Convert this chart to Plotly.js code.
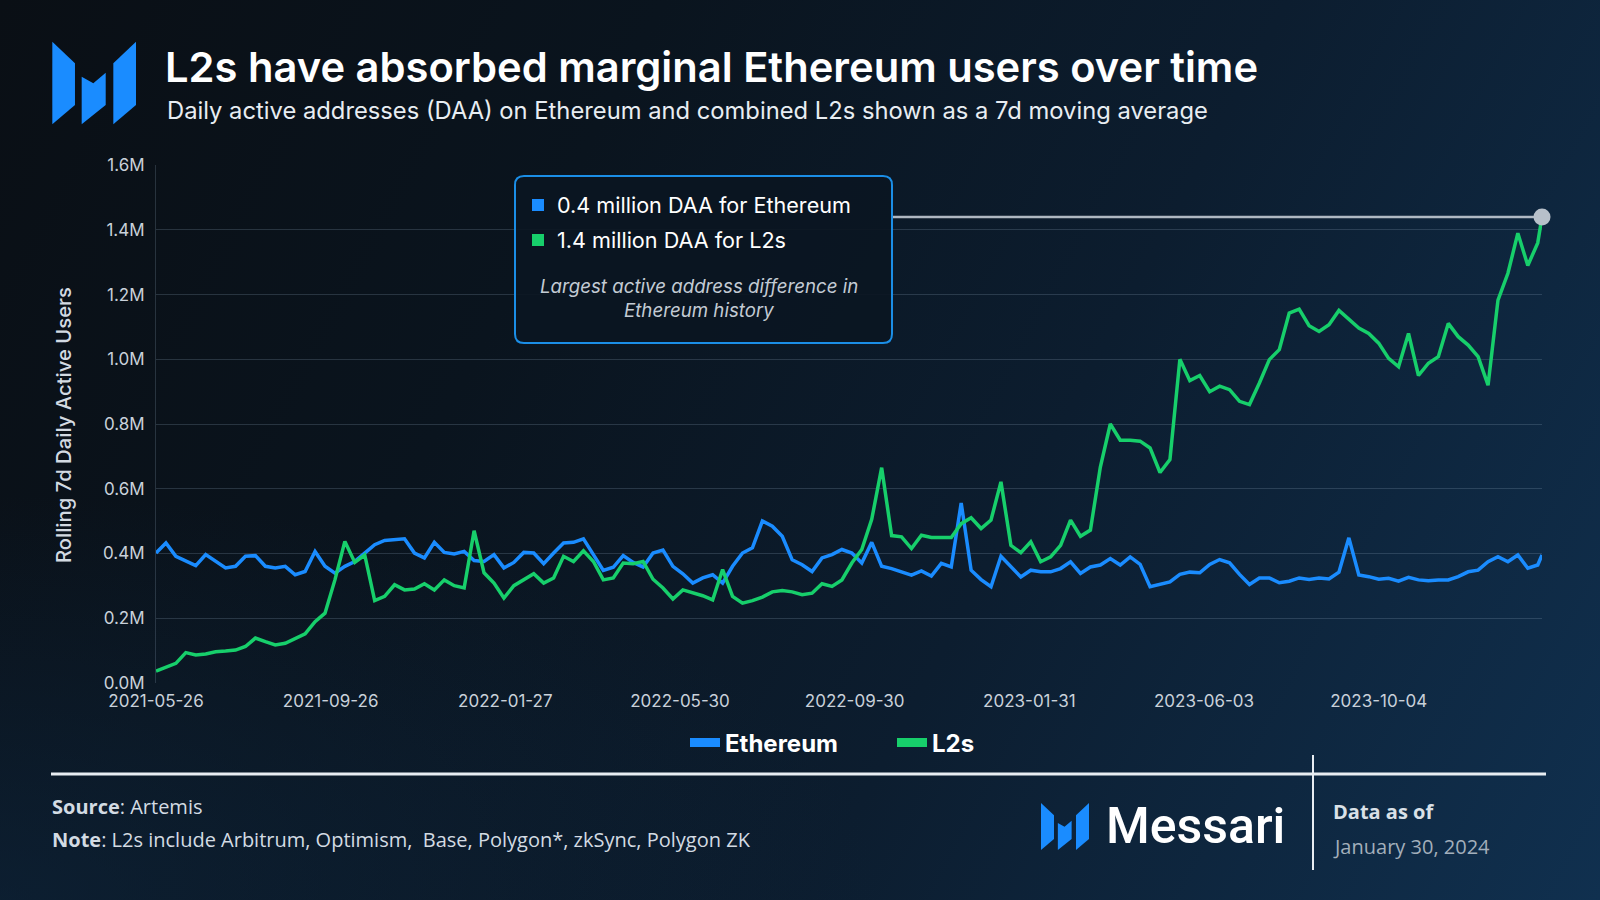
<!DOCTYPE html>
<html><head><meta charset="utf-8">
<script src="https://cdn.plot.ly/plotly-3.0.1.min.js"></script>
<style>
html,body{margin:0;padding:0;width:1600px;height:900px;overflow:hidden;}
body{background:
  radial-gradient(55% 45% at 0% 100%, rgba(14,40,66,0.55) 0%, rgba(14,40,66,0) 100%),
  linear-gradient(118deg,#0a0f15 0%,#0a141e 32%,#0c1d2f 62%,#10304f 100%);}
#chart{width:1600px;height:900px;}
</style></head><body><div id="chart"></div>
<script>
const dates = [
"2021-05-26","2021-06-02","2021-06-09","2021-06-16","2021-06-23","2021-06-30","2021-07-07","2021-07-14","2021-07-21","2021-07-28",
"2021-08-04","2021-08-11","2021-08-18","2021-08-25","2021-09-01","2021-09-08","2021-09-15","2021-09-22","2021-09-29","2021-10-06",
"2021-10-13","2021-10-20","2021-10-27","2021-11-03","2021-11-10","2021-11-17","2021-11-24","2021-12-01","2021-12-08","2021-12-15",
"2021-12-22","2021-12-29","2022-01-05","2022-01-12","2022-01-19","2022-01-26","2022-02-02","2022-02-09","2022-02-16","2022-02-23",
"2022-03-02","2022-03-09","2022-03-16","2022-03-23","2022-03-30","2022-04-06","2022-04-13","2022-04-20","2022-04-27","2022-05-04",
"2022-05-11","2022-05-18","2022-05-25","2022-06-01","2022-06-08","2022-06-15","2022-06-22","2022-06-29","2022-07-06","2022-07-13",
"2022-07-20","2022-07-27","2022-08-03","2022-08-10","2022-08-17","2022-08-24","2022-08-31","2022-09-07","2022-09-14","2022-09-21",
"2022-09-28","2022-10-05","2022-10-12","2022-10-19","2022-10-26","2022-11-02","2022-11-09","2022-11-16","2022-11-23","2022-11-30",
"2022-12-07","2022-12-14","2022-12-21","2022-12-28","2023-01-04","2023-01-11","2023-01-18","2023-01-25","2023-02-01","2023-02-08",
"2023-02-15","2023-02-22","2023-03-01","2023-03-08","2023-03-15","2023-03-22","2023-03-29","2023-04-05","2023-04-12","2023-04-19",
"2023-04-26","2023-05-03","2023-05-10","2023-05-17","2023-05-24","2023-05-31","2023-06-07","2023-06-14","2023-06-21","2023-06-28",
"2023-07-05","2023-07-12","2023-07-19","2023-07-26","2023-08-02","2023-08-09","2023-08-16","2023-08-23","2023-08-30","2023-09-06",
"2023-09-13","2023-09-20","2023-09-27","2023-10-04","2023-10-11","2023-10-18","2023-10-25","2023-11-01","2023-11-08","2023-11-15",
"2023-11-22","2023-11-29","2023-12-06","2023-12-13","2023-12-20","2023-12-27","2024-01-03","2024-01-10","2024-01-17","2024-01-24",
"2024-01-27"];

// Rolling 7d daily active addresses, millions
const ethereum = [
0.401,0.432,0.391,0.375,0.362,0.396,0.375,0.355,0.360,0.391,
0.393,0.360,0.355,0.360,0.334,0.344,0.406,0.360,0.339,0.360,
0.375,0.400,0.427,0.440,0.443,0.445,0.401,0.386,0.434,0.403,
0.398,0.406,0.378,0.375,0.396,0.355,0.372,0.403,0.401,0.368,
0.401,0.432,0.434,0.445,0.396,0.347,0.357,0.393,0.372,0.358,
0.401,0.410,0.360,0.337,0.308,0.324,0.334,0.308,0.360,0.401,
0.417,0.500,0.484,0.453,0.380,0.365,0.344,0.386,0.396,0.412,
0.401,0.370,0.434,0.360,0.353,0.343,0.333,0.346,0.330,0.369,
0.358,0.556,0.348,0.319,0.297,0.391,0.358,0.327,0.348,0.343,
0.343,0.353,0.374,0.338,0.358,0.364,0.384,0.364,0.389,0.366,
0.297,0.304,0.312,0.335,0.342,0.340,0.366,0.381,0.371,0.335,
0.304,0.324,0.324,0.309,0.314,0.324,0.319,0.324,0.321,0.342,
0.448,0.333,0.328,0.320,0.323,0.314,0.326,0.318,0.315,0.318,
0.318,0.328,0.343,0.348,0.374,0.390,0.374,0.395,0.354,0.364,
0.395];

const l2s = [
0.036,0.048,0.060,0.093,0.086,0.089,0.096,0.098,0.101,0.112,
0.138,0.127,0.117,0.122,0.138,0.151,0.189,0.215,0.318,0.437,
0.372,0.395,0.254,0.267,0.303,0.287,0.290,0.306,0.287,0.318,
0.300,0.293,0.470,0.340,0.308,0.262,0.300,0.318,0.337,0.308,
0.324,0.391,0.375,0.408,0.375,0.318,0.324,0.370,0.368,0.375,
0.320,0.293,0.259,0.287,0.279,0.269,0.256,0.350,0.267,0.246,
0.254,0.265,0.281,0.285,0.281,0.272,0.277,0.306,0.298,0.318,
0.370,0.412,0.505,0.665,0.455,0.451,0.415,0.456,0.449,0.449,
0.449,0.492,0.510,0.477,0.503,0.621,0.425,0.402,0.436,0.374,
0.389,0.425,0.503,0.453,0.472,0.667,0.800,0.750,0.750,0.747,
0.726,0.650,0.690,1.000,0.934,0.950,0.900,0.917,0.906,0.870,
0.860,0.927,0.999,1.030,1.143,1.155,1.104,1.086,1.107,1.151,
1.123,1.097,1.080,1.050,1.003,0.977,1.080,0.950,0.988,1.008,
1.111,1.070,1.044,1.008,0.920,1.183,1.266,1.390,1.290,1.360,
1.440];

const xTicks = ["2021-05-26","2021-09-26","2022-01-27","2022-05-30","2022-09-30","2023-01-31","2023-06-03","2023-10-04"];
const yTickVals = [0,0.2,0.4,0.6,0.8,1.0,1.2,1.4,1.6];
const yTickText = ["0.0M","0.2M","0.4M","0.6M","0.8M","1.0M","1.2M","1.4M","1.6M"];
const seriesNames = ["Ethereum","L2s"];

const BLUE = "#1a8cff", GREEN = "#17cf6b";
const last = dates.length - 1;

// plot-area pixel frame -> paper coordinates (for decorations)
const L=156, R=1542, T=165, B=683;
const px = x => (x-L)/(R-L);
const py = y => (B-y)/(B-T);
function P(x,y){ return px(x)+","+py(y); }
function rrect(x0,y0,x1,y1,r){
  return "M"+P(x0+r,y0)+"L"+P(x1-r,y0)+"Q"+P(x1,y0)+" "+P(x1,y0+r)+
         "L"+P(x1,y1-r)+"Q"+P(x1,y1)+" "+P(x1-r,y1)+
         "L"+P(x0+r,y1)+"Q"+P(x0,y1)+" "+P(x0,y1-r)+
         "L"+P(x0,y0+r)+"Q"+P(x0,y0)+" "+P(x0+r,y0)+"Z";
}
const logoParts = [
  [[0,0],[0.271,0.262],[0.271,0.766],[0,1]],
  [[0.351,0.424],[0.490,0.504],[0.638,0.375],[0.638,0.766],[0.351,1]],
  [[0.729,0.262],[1,0],[1,0.766],[0.729,1]]
];
function logoShapes(ox,oy,w,h){
  return logoParts.map(pts => ({
    type:"path", xref:"paper", yref:"paper", layer:"above",
    path:"M"+pts.map(p=>P(ox+p[0]*w, oy+p[1]*h)).join("L")+"Z",
    fillcolor:"#1a8cff", line:{width:0}
  }));
}

const traces = [
  {x:dates, y:ethereum, type:"scatter", mode:"lines", name:seriesNames[0],
   line:{color:BLUE, width:3.5}, showlegend:false, hoverinfo:"skip"},
  {x:dates, y:l2s, type:"scatter", mode:"lines", name:seriesNames[1],
   line:{color:GREEN, width:3.5}, showlegend:false, hoverinfo:"skip"},
  {x:[dates[last]], y:[l2s[last]], type:"scatter", mode:"markers",
   marker:{size:17, color:"#b7c0ca"}, cliponaxis:false, showlegend:false, hoverinfo:"skip"},
  {x:[null], y:[null], type:"scatter", mode:"lines", name:seriesNames[0], line:{color:BLUE, width:9}},
  {x:[null], y:[null], type:"scatter", mode:"lines", name:seriesNames[1], line:{color:GREEN, width:9}}
];

const tickFont = {family:"Inter, sans-serif", size:17, color:"#c9d1da"};

const shapes = [
  {type:"line", xref:"paper", yref:"y", x0:px(893), x1:1, y0:l2s[last], y1:l2s[last],
   line:{color:"rgba(205,212,220,0.85)", width:2.5}, layer:"between"},
  {type:"path", xref:"paper", yref:"paper", path:rrect(515,176,892,343,9),
   fillcolor:"rgba(11,22,34,0.92)", line:{color:"#1b8ee6", width:2}, layer:"above"},
  {type:"rect", xref:"paper", yref:"paper", x0:px(532), x1:px(544), y0:py(199), y1:py(211),
   fillcolor:BLUE, line:{width:0}, layer:"above"},
  {type:"rect", xref:"paper", yref:"paper", x0:px(532), x1:px(544), y0:py(234), y1:py(246),
   fillcolor:GREEN, line:{width:0}, layer:"above"},
  {type:"line", xref:"paper", yref:"paper", x0:px(51), x1:px(1546), y0:py(774), y1:py(774),
   line:{color:"#e8edf2", width:3}, layer:"above"},
  {type:"line", xref:"paper", yref:"paper", x0:px(1313), x1:px(1313), y0:py(755), y1:py(870),
   line:{color:"#e8edf2", width:2}, layer:"above"}
].concat(logoShapes(52.3,41.7,83.7,82.6), logoShapes(1041,803,48,47));

const ann = (text,x,y,font,extra) => Object.assign({text:text, xref:"paper", yref:"paper",
  x:px(x), y:py(y), xanchor:"left", yanchor:"middle", showarrow:false, font:font}, extra||{});

const annotations = [
  ann("Daily active addresses (DAA) on Ethereum and combined L2s shown as a 7d moving average", 165, 110,
      {family:"Inter, sans-serif", size:23.75, color:"#e8edf2"}),
  ann("Rolling 7d Daily Active Users", 63, 425, {family:"Inter, sans-serif", size:20.3, color:"#d3dae2", weight:500},
      {textangle:-90, xanchor:"center"}),
  ann(ethereum[last].toFixed(1)+" million DAA for Ethereum", 555, 205, {family:"Inter, sans-serif", size:21.6, color:"#ffffff"}),
  ann(l2s[last].toFixed(1)+" million DAA for L2s", 555, 240, {family:"Inter, sans-serif", size:21.6, color:"#ffffff"}),
  ann("<i>Largest active address difference in</i>", 699, 286, {family:"Inter, sans-serif", size:18.7, color:"#c3cbd4"}, {xanchor:"center"}),
  ann("<i>Ethereum history</i>", 699, 310, {family:"Inter, sans-serif", size:18.7, color:"#c3cbd4"}, {xanchor:"center"}),
  ann("<b>Source</b>: Artemis", 50, 806, {family:"Open Sans, sans-serif", size:20, color:"#d3dbe3"}),
  ann("<b>Note</b>: L2s include Arbitrum, Optimism,&nbsp; Base, Polygon*, zkSync, Polygon ZK", 50, 839,
      {family:"Open Sans, sans-serif", size:20, color:"#d3dbe3"}),
  ann("Messari", 1104, 826, {family:"Roboto, sans-serif", size:50, color:"#ffffff", weight:500}),
  ann("<b>Data as of</b>", 1331, 811, {family:"Open Sans, sans-serif", size:20, color:"#d9e0e7"}),
  ann("January 30, 2024", 1331, 846, {family:"Open Sans, sans-serif", size:20, color:"#a3afbb"})
];

const layout = {
  width:1600, height:900,
  margin:{l:L, r:1600-R, t:T, b:900-B, pad:0},
  paper_bgcolor:"rgba(0,0,0,0)", plot_bgcolor:"rgba(0,0,0,0)",
  title:{text:"L2s have absorbed marginal Ethereum users over time", xref:"container", yref:"container",
         x:165/1600, xanchor:"left", y:1-67/900, yanchor:"middle",
         font:{family:"Inter, sans-serif", size:41.7, weight:600, color:"#ffffff"}},
  xaxis:{type:"date", range:[dates[0], dates[last]], tickvals:xTicks, ticktext:xTicks,
         showgrid:false, zeroline:false, showline:false, ticks:"", tickfont:tickFont, ticklabelstandoff:6, fixedrange:true},
  yaxis:{range:[-0.0008,1.6008], tickvals:yTickVals, ticktext:yTickText, showgrid:true,
         gridcolor:"rgba(150,172,195,0.22)", gridwidth:1, zeroline:false, showline:true,
         linecolor:"rgba(150,172,195,0.22)", linewidth:1, ticks:"", tickfont:tickFont, ticklabelstandoff:7, fixedrange:true},
  showlegend:true,
  legend:{orientation:"h", x:px(685), xanchor:"left", y:py(743), yanchor:"middle",
          entrywidth:162, entrywidthmode:"pixels",
          font:{family:"Inter, sans-serif", size:24, weight:700, color:"#ffffff"}, bgcolor:"rgba(0,0,0,0)"},
  shapes:shapes, annotations:annotations
};

Plotly.newPlot("chart", traces, layout, {displayModeBar:false, staticPlot:true});
</script></body></html>
